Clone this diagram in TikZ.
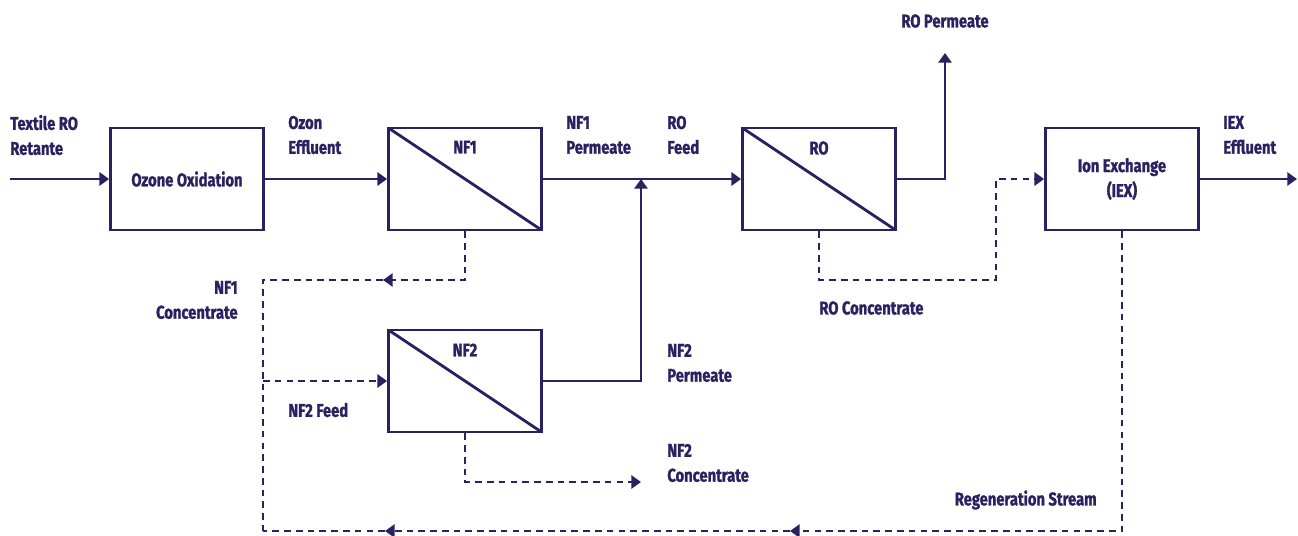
\documentclass[tikz,border=0pt]{standalone}
\usepackage{fontspec}
\setmainfont{Fira Sans}[FakeStretch=0.8, BoldFeatures={FakeBold=1.3}]
\usetikzlibrary{arrows.meta}
\definecolor{navy}{RGB}{43,33,96}
\tikzset{>/.tip={Triangle[length=5.5pt,width=7.5pt]},
  lbl/.style={text=navy, font=\bfseries\fontsize{10.5}{14.2}\selectfont, inner sep=0pt, align=left},
  unitbox/.style={draw=navy, line width=1.6pt, minimum width=3.06cm, minimum height=2.04cm,
    text=navy, font=\bfseries\fontsize{10.5}{14.2}\selectfont, align=center},
  membrane/.style={unitbox, path picture={\draw[navy, line width=1.6pt]
    (path picture bounding box.north west) -- (path picture bounding box.south east);}},
  flow/.style={draw=navy, line width=1.6pt},
  recycle/.style={flow, dash pattern=on 3.8pt off 2.9pt}
}

\begin{document}
\begin{tikzpicture}[x=0.02cm, y=-0.02cm]
\useasboundingbox (0,0) rectangle (1298,535);

% units
\node[unitbox] (ozone) at (187,179) {Ozone Oxidation};
\node[membrane] (nf1) at (465,179) {};
\node[membrane] (nf2) at (465,381) {};
\node[membrane] (ro) at (819,179) {};
\node[unitbox] (iex) at (1122,179) {Ion Exchange\\(IEX)};

\node[lbl] (nf1-t) at (465,147) {NF1};
\node[lbl] (nf2-t) at (465,350) {NF2};
\node[lbl] (ro-t) at (819,148) {RO};

% ends and corners
\coordinate (in) at (10,179);
\coordinate (out) at (1297,179);
\coordinate (tee) at (641,179);
\coordinate (rop) at (945,53);
\coordinate (roc) at (996,280);
\coordinate (nf1c) at (383,280);
\coordinate (left) at (263,280);
\coordinate (feed) at (263,381);
\coordinate (bl) at (263,531);
\coordinate (nf2c) at (641,482);
\coordinate (regen1) at (790,531);
\coordinate (regen2) at (385,531);

% main line
\draw[flow,->] (in) -- (ozone);
\draw[flow,->] (ozone) -- (nf1);
\draw[flow,->] (nf1) -- (ro);
\draw[flow,->] (nf2.east) -| (tee);
\draw[flow,->] (ro.east) -| (rop);
\draw[flow,->] (iex) -- (out);

% concentrates and recycle
\draw[recycle,->] (ro.south) |- (roc) |- (iex.west);
\draw[recycle,->] (nf1.south) |- (nf1c);
\draw[recycle] (nf1c) -- (left) -- (bl);
\draw[recycle,->] (feed) -- (nf2.west);
\draw[recycle,->] (nf2.south) |- (nf2c);
\draw[recycle,->] (iex.south) |- (regen1);
\draw[recycle,->] (regen1) -- (regen2);
\draw[recycle] (regen2) -- (bl);

% stream labels
\node[lbl, anchor=west] (l-in) at (10,135) {Textile RO\\Retante};
\node[lbl, anchor=west] (l-oz) at (288,135) {Ozon\\Effluent};
\node[lbl, anchor=west] (l-nf1p) at (566,135) {NF1\\Permeate};
\node[lbl, anchor=west] (l-rof) at (667,135) {RO\\Feed};
\node[lbl] (l-rop) at (945,21) {RO Permeate};
\node[lbl, anchor=west] (l-iex) at (1223,135) {IEX\\Effluent};
\node[lbl, anchor=east, align=right] (l-nf1c) at (238,300) {NF1\\Concentrate};
\node[lbl, anchor=west] (l-roc) at (819,308) {RO Concentrate};
\node[lbl, anchor=west] (l-nf2p) at (667,363) {NF2\\Permeate};
\node[lbl, anchor=west] (l-feed) at (288,410) {NF2 Feed};
\node[lbl, anchor=west] (l-nf2c) at (667,463) {NF2\\Concentrate};
\node[lbl, anchor=east] (l-reg) at (1097,500) {Regeneration Stream};
\end{tikzpicture}
\end{document}
